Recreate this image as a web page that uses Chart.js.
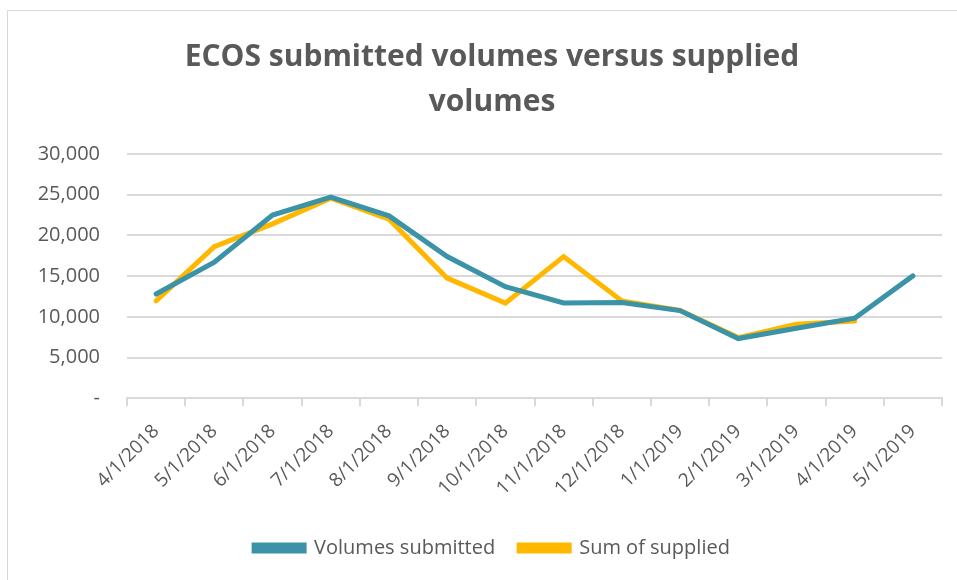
<!DOCTYPE html>
<html>
<head>
<meta charset="utf-8">
<script src="https://cdn.jsdelivr.net/npm/chart.js@4.4.1/dist/chart.umd.min.js"></script>
<style>
  html, body { margin: 0; padding: 0; background: #fff; overflow: hidden; width: 957px; height: 580px; }
  #frame {
    position: absolute; left: 7px; top: 10px; width: 972px; height: 580px;
    border: 1px solid #d9d9d9; box-sizing: border-box;
  }
  #wrap { position: absolute; left: 7px; top: 0; width: 970px; height: 580px; }
</style>
</head>
<body>
<div id="frame"></div>
<div id="wrap"><canvas id="lineChart"></canvas></div>
<script>
const months = ['4/1/2018','5/1/2018','6/1/2018','7/1/2018','8/1/2018','9/1/2018','10/1/2018',
                '11/1/2018','12/1/2018','1/1/2019','2/1/2019','3/1/2019','4/1/2019','5/1/2019'];
const volumesSubmitted = [12800, 16700, 22500, 24700, 22400, 17400, 13700,
                          11700, 11750, 10770, 7330, 8600, 9830, 15030];
const sumSupplied = [11960, 18630, 21420, 24580, 22000, 14750, 11680,
                     17400, 11960, 10800, 7450, 9090, 9500, null];
const yMax = 30000;
const yStep = 5000;

const grey = '#595959';
const font = "'Open Sans', 'Liberation Sans', sans-serif";

new Chart(document.getElementById('lineChart'), {
  type: 'line',
  data: {
    labels: months,
    datasets: [
      {
        label: 'Volumes submitted',
        data: volumesSubmitted,
        borderColor: '#3A93A6',
        backgroundColor: '#3A93A6',
        borderWidth: 5,
        pointRadius: 0,
        tension: 0,
        borderCapStyle: 'round'
      },
      {
        label: 'Sum of supplied',
        data: sumSupplied,
        borderColor: '#FFB700',
        backgroundColor: '#FFB700',
        borderWidth: 5,
        pointRadius: 0,
        tension: 0,
        borderCapStyle: 'round'
      }
    ]
  },
  options: {
    responsive: true,
    maintainAspectRatio: false,
    animation: false,
    layout: {
      padding: { left: 0, right: 0, top: 35, bottom: 12 }
    },
    plugins: {
      title: {
        display: true,
        text: ['ECOS submitted volumes versus supplied', 'volumes'],
        color: grey,
        font: { family: font, size: 30, weight: 'bold', lineHeight: 1.5 },
        padding: { top: 0, bottom: 29 }
      },
      legend: {
        position: 'bottom',
        labels: {
          color: grey,
          font: { family: font, size: 20 },
          boxWidth: 50,
          boxHeight: 6,
          padding: 24
        }
      },
      tooltip: { enabled: false }
    },
    scales: {
      x: {
        offset: true,
        grid: {
          offset: true,
          drawOnChartArea: false,
          drawTicks: true,
          tickLength: 8,
          color: '#d9d9d9',
          lineWidth: 2
        },
        border: { color: '#d9d9d9', width: 2 },
        ticks: {
          color: grey,
          font: { family: font, size: 19 },
          maxRotation: 45,
          minRotation: 45,
          autoSkip: false,
          padding: 14
        }
      },
      y: {
        min: 0,
        max: yMax,
        afterFit: function(axis) { axis.width = 120; },
        ticks: {
          stepSize: yStep,
          color: grey,
          font: { family: font, size: 20 },
          padding: 27,
          callback: function(v) { return v === 0 ? '-' : v.toLocaleString('en-US'); }
        },
        grid: {
          color: '#d9d9d9',
          lineWidth: 2,
          drawTicks: false
        },
        border: { display: false }
      },
      // empty right-hand strip so the plot ends where the reference does
      spacer: {
        type: 'linear',
        position: 'right',
        afterFit: function(axis) { axis.width = 35; },
        ticks: { display: false },
        grid: { display: false },
        border: { display: false }
      }
    }
  }
});
</script>
</body>
</html>
